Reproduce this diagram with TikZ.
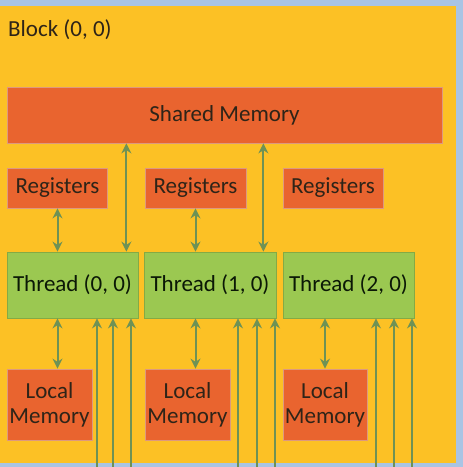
\documentclass[tikz,border=0pt]{standalone}
\usepackage{fontspec}
\setmainfont{Carlito}
\usetikzlibrary{arrows.meta,calc}
\definecolor{bgblue}{HTML}{A9C4E4}
\definecolor{blockyellow}{HTML}{FCC125}
\definecolor{memorange}{HTML}{E9642F}
\definecolor{thrgreen}{HTML}{9BC851}
\definecolor{arrgreen}{HTML}{6E9255}
\definecolor{txtdark}{HTML}{2E2418}
\tikzset{
  orangebox/.style={rectangle, fill=memorange, draw=memorange!85!black!60!white, line width=0.8pt, inner sep=0pt, font=\fontsize{23}{25}\selectfont, text=txtdark, align=center},
  greenbox/.style={rectangle, fill=thrgreen, draw=thrgreen!85!black, line width=0.8pt, inner sep=0pt, font=\fontsize{23}{25}\selectfont, text=txtdark!80!green!30!black},
  dblarrow/.style={arrgreen, line width=2pt, {Stealth[length=10pt,width=10pt]}-{Stealth[length=10pt,width=10pt]}},
  uparrow/.style={arrgreen, line width=2pt, -{Stealth[length=10pt,width=10pt]}},
}
\begin{document}
\begin{tikzpicture}[x=1pt,y=-1pt]
\useasboundingbox (0,0) rectangle (463,467);
\fill[bgblue] (0,0) rectangle (463,467);
\fill[blockyellow] (0,6) rectangle (456,463);
\node[anchor=base west, font=\fontsize{23}{25}\selectfont, text=txtdark, inner sep=0pt] (blk) at (8,36) {Block (0, 0)};

\node[orangebox, minimum width=435pt, minimum height=56pt] (sm) at (224.5,115) {Shared Memory};

\node[orangebox, minimum width=100pt, minimum height=40pt] (r1) at (57.5,188) {Registers};
\node[orangebox, minimum width=101pt, minimum height=40pt] (r2) at (195.5,188) {Registers};
\node[orangebox, minimum width=100pt, minimum height=40pt] (r3) at (333,188) {Registers};

\node[greenbox, minimum width=131pt, minimum height=66pt] (t1) at (72.5,285) {Thread (0, 0)};
\node[greenbox, minimum width=132pt, minimum height=66pt] (t2) at (210,285) {Thread (1, 0)};
\node[greenbox, minimum width=131pt, minimum height=66pt] (t3) at (348.5,285) {Thread (2, 0)};

\node[orangebox, minimum width=85pt, minimum height=71pt] (l1) at (49.5,404.5) {Local\\Memory};
\node[orangebox, minimum width=85pt, minimum height=71pt] (l2) at (187.5,404.5) {Local\\Memory};
\node[orangebox, minimum width=84pt, minimum height=71pt] (l3) at (325,404.5) {Local\\Memory};

% registers <-> threads
\draw[dblarrow] (r1.south) -- (r1.south |- t1.north);
\draw[dblarrow] (r2.south) -- (r2.south |- t2.north);

% shared memory <-> threads
\coordinate (s1) at ([xshift=-12pt]t1.north east);
\coordinate (s2) at ([xshift=-13pt]t2.north east);
\draw[dblarrow] (s1 |- sm.south) -- (s1);
\draw[dblarrow] (s2 |- sm.south) -- (s2);

% threads <-> local memory
\draw[dblarrow] (t1.south -| r1.south) -- (l1.north -| r1.south);
\draw[dblarrow] (t2.south -| r2.south) -- (l2.north -| r2.south);
\draw[dblarrow] (t3.south -| l3.north) -- (l3.north);

% incoming arrows from below
\foreach \x/\t/\n in {97/t1/a, 113/t1/b, 131/t1/c, 238/t2/d, 257/t2/e, 275/t2/f, 376/t3/g, 394/t3/h, 412/t3/i}{
  \coordinate (in\n) at (\x,467);
  \draw[uparrow] (in\n) -- (in\n |- \t.south);
}
\end{tikzpicture}
\end{document}
